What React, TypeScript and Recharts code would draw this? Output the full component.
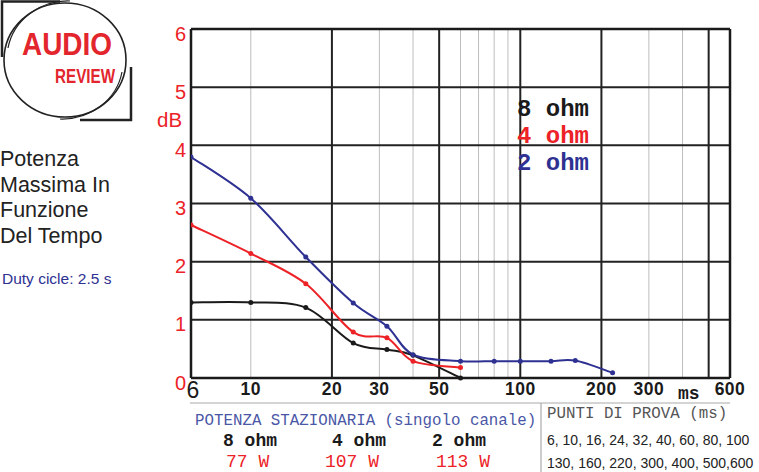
import React from "react";
import { LineChart, Line, XAxis, YAxis, ReferenceLine, Legend } from "recharts";

// ---- data ----
const times8 = [6, 10, 16, 24, 32, 40, 60];
const db8 = [1.3, 1.3, 1.21, 0.6, 0.49, 0.39, 0.0];
const times4 = [6, 10, 16, 24, 32, 40, 60];
const db4 = [2.63, 2.14, 1.62, 0.79, 0.69, 0.29, 0.18];
const times2 = [6, 10, 16, 24, 32, 40, 60, 80, 100, 130, 160, 220];
const db2 = [3.8, 3.09, 2.08, 1.29, 0.89, 0.4, 0.29, 0.29, 0.29, 0.29, 0.3, 0.09];

const seriesNames = ["8 ohm", "4 ohm", "2 ohm"];
const xTicks = [6, 10, 20, 30, 50, 100, 200, 300, 600];
const yTicks = [0, 1, 2, 3, 4, 5, 6];
const pctLabels = ["+0%", "+26%", "+58%", "+100%", "+151%", "+216%", "+298%"];
const majorX = [20, 50, 100, 200, 500];
const minorX = [10, 30, 40, 60, 70, 80, 90, 300, 400];
const gridY = [1, 2, 3, 4, 5];

const stazOhm = ["8 ohm", "4 ohm", "2 ohm"];
const stazWatt = ["77 W", "107 W", "113 W"];
const puntiLines = ["6, 10, 16, 24, 32, 40, 60, 80, 100", "130, 160, 220, 300, 400, 500,600"];
const titleLines = ["Potenza", "Massima In", "Funzione", "Del Tempo"];

const RED = "#ec2227";
const BLUE = "#2e3192";
const BLACK = "#1a1a1a";
const colors = [BLACK, RED, BLUE];

const toData = (t: number[], v: number[]) => t.map((x, i) => ({ t: x, v: v[i] }));
const data8 = toData(times8, db8);
const data4 = toData(times4, db4);
const data2 = toData(times2, db2);

// Catmull-Rom style smooth curve passing through every point
const smoothCurve: any = (context: any) => {
  let pts: number[][] = [];
  return {
    areaStart() {},
    areaEnd() {},
    lineStart() {
      pts = [];
    },
    point(x: number, y: number) {
      pts.push([+x, +y]);
    },
    lineEnd() {
      const n = pts.length;
      if (!n) return;
      context.moveTo(pts[0][0], pts[0][1]);
      for (let i = 0; i < n - 1; i++) {
        const p0 = pts[i - 1] || pts[i];
        const p1 = pts[i];
        const p2 = pts[i + 1];
        const p3 = pts[i + 2] || p2;
        context.bezierCurveTo(
          p1[0] + (p2[0] - p0[0]) / 6,
          p1[1] + (p2[1] - p0[1]) / 6,
          p2[0] - (p3[0] - p1[0]) / 6,
          p2[1] - (p3[1] - p1[1]) / 6,
          p2[0],
          p2[1]
        );
      }
    },
  };
};

const XTick = (props: any) => {
  const { x, y, payload } = props;
  if (payload.value === 6) {
    return (
      <text x={x + 2} y={y + 20} textAnchor="middle" fontSize={23} fill={BLACK}
        fontFamily="Liberation Sans, Arial, sans-serif">6</text>
    );
  }
  return (
    <text x={x} y={y + 17} textAnchor="middle" fontSize={17.5} fontWeight="bold" fill={BLACK}
      letterSpacing={0.5} fontFamily="Liberation Sans, Arial, sans-serif">{payload.value}</text>
  );
};

const YTickLeft = (props: any) => {
  const { x, y, payload } = props;
  return (
    <text x={x - 5} y={y + 11.5} textAnchor="end" fontSize={20} fill={RED}
      fontFamily="Liberation Sans, Arial, sans-serif">{payload.value}</text>
  );
};

const YTickRight = (props: any) => {
  const { x, y, payload } = props;
  const idx = yTicks.indexOf(payload.value);
  return (
    <text x={x + 2} y={y + 3} textAnchor="start" fontSize={8.5} fontWeight="bold" fill={RED}
      fontFamily="Liberation Sans, Arial, sans-serif">{pctLabels[idx]}</text>
  );
};

const LegendContent = () => (
  <div style={{ fontFamily: "Liberation Mono, monospace", fontWeight: "bold", fontSize: 24, lineHeight: "27px" }}>
    {seriesNames.map((s, i) => (
      <div key={s} style={{ color: colors[i], whiteSpace: "pre" }}>{s}</div>
    ))}
  </div>
);

export default function App() {
  return (
    <div style={{ position: "absolute", left: 0, top: 0, width: 759, height: 472, background: "#fff" }}>
      <LineChart width={759} height={472} margin={{ top: 29, right: 0, bottom: 64, left: 151 }}>
        <XAxis dataKey="t" type="number" scale="log" domain={[6, 600]} ticks={xTicks}
          allowDataOverflow axisLine={false} tickLine={false} tickSize={0} tickMargin={0}
          height={30} tick={<XTick />} interval={0} />
        <YAxis yAxisId="l" type="number" domain={[0, 6]} ticks={yTicks} width={40}
          axisLine={false} tickLine={false} tickSize={0} tickMargin={0} tick={<YTickLeft />} interval={0} />
        <YAxis yAxisId="r" orientation="right" type="number" domain={[0, 6]} ticks={yTicks} width={29}
          axisLine={false} tickLine={false} tickSize={0} tickMargin={0} tick={<YTickRight />} interval={0} />
        {minorX.map((v) => (
          <ReferenceLine key={"mx" + v} x={v} yAxisId="l" stroke="#bdbdbd" strokeWidth={1} />
        ))}
        {majorX.map((v) => (
          <ReferenceLine key={"Mx" + v} x={v} yAxisId="l" stroke="#222" strokeWidth={2} />
        ))}
        {gridY.map((v) => (
          <ReferenceLine key={"gy" + v} y={v} yAxisId="l" stroke="#222" strokeWidth={2} />
        ))}
        <ReferenceLine x={6} yAxisId="l" stroke="#1a1a1a" strokeWidth={2.5} />
        <ReferenceLine x={600} yAxisId="l" stroke="#1a1a1a" strokeWidth={2.5} />
        <ReferenceLine y={0} yAxisId="l" stroke="#1a1a1a" strokeWidth={2.5} />
        <ReferenceLine y={6} yAxisId="l" stroke="#1a1a1a" strokeWidth={2.5} />
        <Line yAxisId="l" data={data8} dataKey="v" name={seriesNames[0]} type={smoothCurve} stroke={colors[0]}
          strokeWidth={2} dot={{ r: 2.5, fill: colors[0], stroke: "none" }} isAnimationActive={false} />
        <Line yAxisId="l" data={data4} dataKey="v" name={seriesNames[1]} type={smoothCurve} stroke={colors[1]}
          strokeWidth={2} dot={{ r: 2.5, fill: colors[1], stroke: "none" }} isAnimationActive={false} />
        <Line yAxisId="l" data={data2} dataKey="v" name={seriesNames[2]} type={smoothCurve} stroke={colors[2]}
          strokeWidth={2} dot={{ r: 2.5, fill: colors[2], stroke: "none" }} isAnimationActive={false} />
        <Legend content={<LegendContent />} layout="horizontal" verticalAlign="middle" align="center"
          wrapperStyle={{ position: "absolute", left: 517, top: 96, width: 120, height: 90 }} />
      </LineChart>

      <svg width={759} height={472} style={{ position: "absolute", left: 0, top: 0, pointerEvents: "none" }}>
        {/* logo */}
        <g fill="none" stroke="#222">
          <ellipse cx={65} cy={60} rx={61} ry={57} strokeWidth={1.6} />
          <path d="M 2 57 L 2 1.5 L 60 1.5" strokeWidth={2.5} />
          <path d="M 80 120 L 131 120 L 131 67" strokeWidth={2.5} />
          <path d="M 8 48 A 61 57 0 0 1 70 1" strokeWidth={1.2} />
          <path d="M 122 72 A 61 57 0 0 1 60 119" strokeWidth={1.2} />
        </g>
        <text x={22} y={55} fontSize={31} fontWeight="bold" fill="#e3262d" textLength={90}
          lengthAdjust="spacingAndGlyphs" fontFamily="Liberation Sans, Arial, sans-serif">AUDIO</text>
        <text x={55} y={83} fontSize={20.5} fontWeight="bold" fill="#e3262d" textLength={60}
          lengthAdjust="spacingAndGlyphs" fontFamily="Liberation Sans, Arial, sans-serif">REVIEW</text>

        {titleLines.map((s, i) => (
          <text key={s} x={0} y={166 + i * 25.5} fontSize={21.5} fill="#222"
            fontFamily="Liberation Sans, Arial, sans-serif">{s}</text>
        ))}
        <text x={2} y={284} fontSize={15.5} fill={BLUE} fontFamily="Liberation Sans, Arial, sans-serif">
          Duty cicle: 2.5 s
        </text>

        <text x={157} y={127} fontSize={20.5} fill={RED} fontFamily="Liberation Sans, Arial, sans-serif">dB</text>
        <text x={678} y={399} fontSize={18} fontWeight="bold" fill={BLACK}
          fontFamily="Liberation Mono, monospace">ms</text>

        {/* bottom table */}
        <line x1={190} y1={403} x2={730} y2={403} stroke="#aaa" strokeWidth={1.2} />
        <line x1={541} y1={403} x2={541} y2={472} stroke="#aaa" strokeWidth={1.2} />
        <text x={195} y={425} fontSize={15.8} fill="#4a57a6" fontFamily="Liberation Mono, monospace">
          POTENZA STAZIONARIA (singolo canale)
        </text>
        {stazOhm.map((s, i) => (
          <text key={s} x={[223, 332, 432][i]} y={446} fontSize={18} fontWeight="bold" fill={BLACK}
            fontFamily="Liberation Mono, monospace" style={{ whiteSpace: "pre" }}>{s}</text>
        ))}
        {stazWatt.map((s, i) => (
          <text key={s} x={[226, 325, 436][i]} y={467} fontSize={18} fill={RED}
            fontFamily="Liberation Mono, monospace" style={{ whiteSpace: "pre" }}>{s}</text>
        ))}
        <text x={547} y={418} fontSize={15.8} fill="#555" fontFamily="Liberation Mono, monospace">
          PUNTI DI PROVA (ms)
        </text>
        {puntiLines.map((s, i) => (
          <text key={s} x={547} y={445 + i * 23} fontSize={14} fill="#222"
            fontFamily="Liberation Sans, Arial, sans-serif">{s}</text>
        ))}
      </svg>
    </div>
  );
}
